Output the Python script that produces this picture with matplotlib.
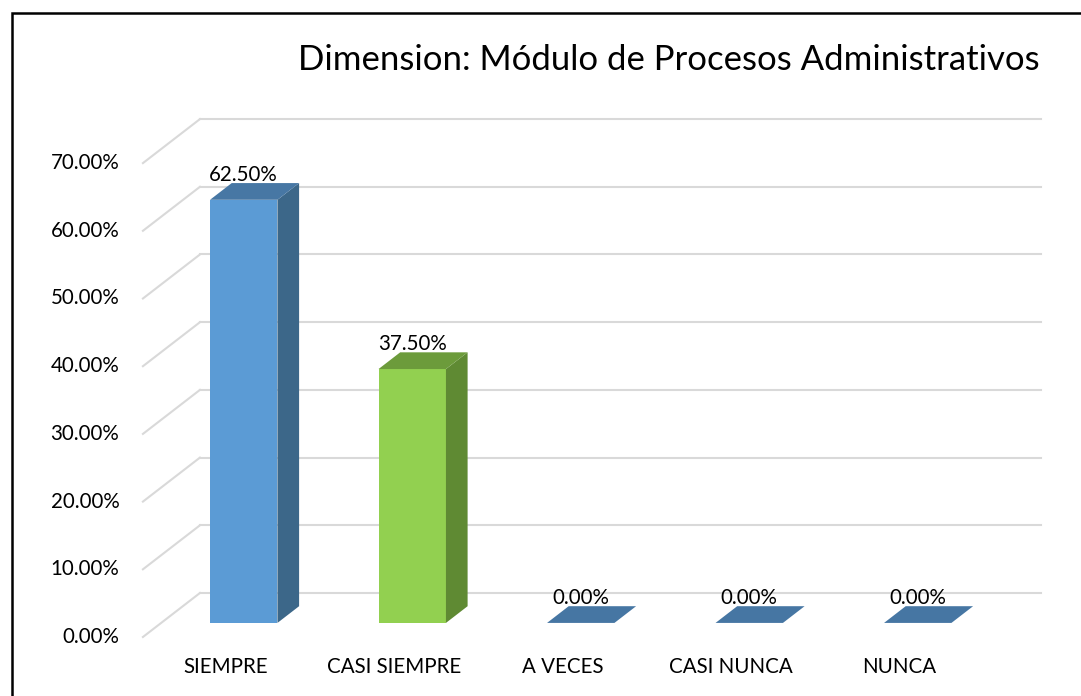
import numpy as np
import matplotlib.pyplot as plt
from matplotlib.patches import Polygon, Rectangle

plt.rcParams['font.family'] = ['Lato', 'DejaVu Sans']

# --- datos ---
categorias = ["SIEMPRE", "CASI SIEMPRE", "A VECES", "CASI NUNCA", "NUNCA"]
porcentajes = [62.5, 37.5, 0.0, 0.0, 0.0]
ticks_y = [0, 10, 20, 30, 40, 50, 60, 70]
titulo = "Dimension: Módulo de Procesos Administrativos"

# --- colores de las caras ---
color_frente = ["#5B9BD5", "#92D050", "#5B9BD5", "#5B9BD5", "#5B9BD5"]
color_lado = ["#3C6789", "#5F8A33", "#3C6789", "#3C6789", "#3C6789"]
color_arriba = ["#4777A4", "#6C9B3B", "#4676A3", "#4676A3", "#4676A3"]
color_rejilla = "#D9D9D9"

# --- perspectiva (desplazamiento por unidad de profundidad) ---
DX = 57 / 168.5
DY = 44 / 6.77
z0, z1 = 0.32, 0.70
ancho = 0.40

fig = plt.figure(figsize=(10.81, 6.96), dpi=100)
ax = fig.add_axes([0, 0, 1, 1])
ax.set_xlim(-225.5 / 168.5, (1081 - 225.5) / 168.5)
ax.set_ylim((637 - 696) / 6.77, 637 / 6.77)
ax.axis("off")

# rejilla: diagonal del piso lateral + linea en la pared del fondo
x_izq = -0.49
x_der = len(categorias) - 0.5
for t in ticks_y:
    ax.plot([x_izq, x_izq + DX], [t, t + DY], color=color_rejilla, lw=1.5, zorder=1)
    ax.plot([x_izq + DX, x_der + DX], [t + DY, t + DY], color=color_rejilla, lw=1.5, zorder=1)
    ax.text(x_izq - 0.14, t, f"{t:.2f}%", ha="right", va="center", fontsize=14.8)

# barras
x = np.arange(len(categorias))
base = z0 * DY
d = z1 - z0
ax.bar(x + z0 * DX, porcentajes, ancho, bottom=base, color=color_frente,
       linewidth=0, zorder=3)
for i, v in enumerate(porcentajes):
    xl = i - ancho / 2 + z0 * DX
    xr = i + ancho / 2 + z0 * DX
    lado = [(xr, base), (xr + d * DX, base + d * DY),
            (xr + d * DX, base + v + d * DY), (xr, base + v)]
    arriba = [(xl, base + v), (xr, base + v),
              (xr + d * DX, base + v + d * DY), (xl + d * DX, base + v + d * DY)]
    if v > 0:
        ax.add_patch(Polygon(lado, closed=True, color=color_lado[i], lw=0, zorder=3))
    ax.add_patch(Polygon(arriba, closed=True, color=color_arriba[i], lw=0, zorder=3))
    ax.text(i + z0 * DX, base + v + 25 / 6.77, f"{v:.2f}%", ha="center", va="center",
            fontsize=14.8, zorder=4)

# etiquetas de categorias
for i, c in enumerate(categorias):
    ax.text(i, -30 / 6.77, c, ha="center", va="center", fontsize=14.8)

# titulo
fig.text(1040 / 1081, 1 - 60 / 696, titulo, ha="right", va="center", fontsize=25)

# marco
fig.patches.append(Rectangle((11.5 / 1081, -0.1), 1.2, 1 - 13.5 / 696 + 0.1,
                             transform=fig.transFigure, fill=False, lw=1.8,
                             ec="black"))

plt.savefig("out.png", dpi=100)
